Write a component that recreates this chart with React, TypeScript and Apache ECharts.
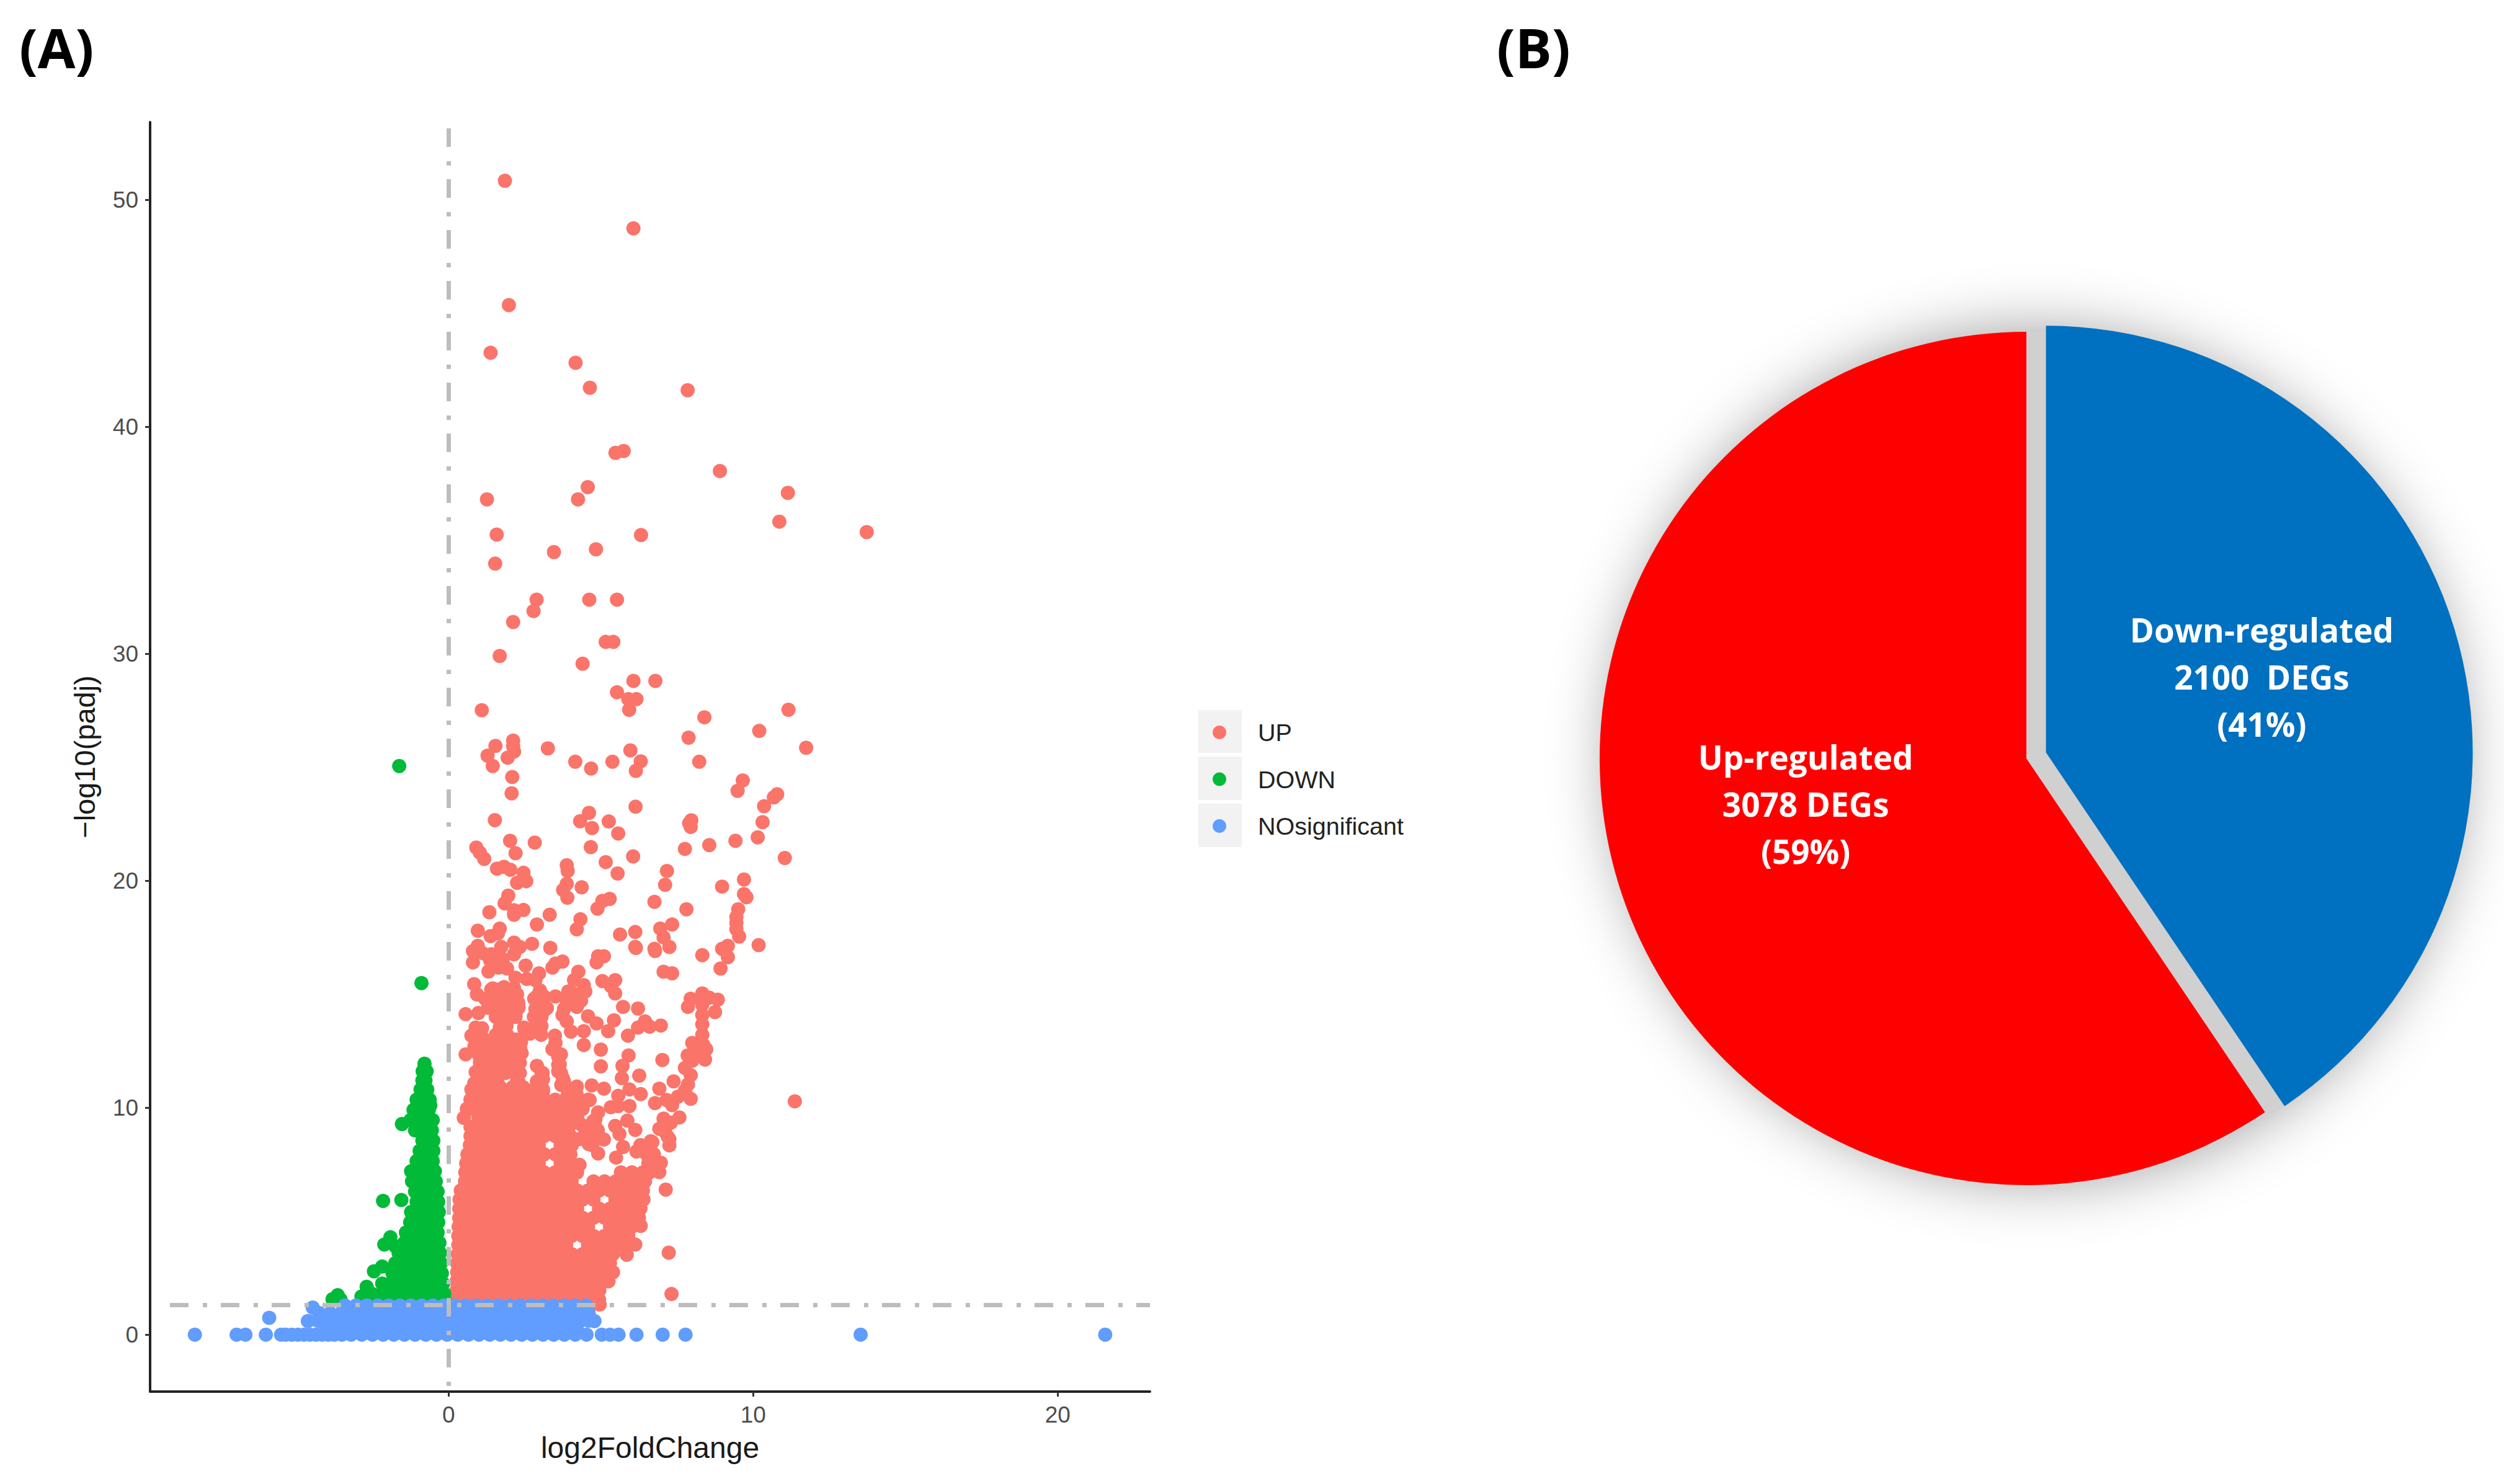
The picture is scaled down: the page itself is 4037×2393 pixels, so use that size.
import React, { useEffect, useRef } from "react";
import * as echarts from "echarts";

type Pt = [number, number];
type Row = [number, number[]];

const upSparse: Pt[] = [
  [1.85,50.84],[6.07,48.74],[1.98,45.36],[1.38,43.26],[4.17,42.82],[4.64,41.72],[7.85,41.61],[5.75,38.93],[5.48,38.85],[8.91,38.05],
  [4.57,37.34],[1.26,36.8],[4.25,36.8],[11.14,37.09],[10.86,35.82],[13.73,35.36],[1.58,35.25],[6.32,35.23],[4.84,34.6],[3.46,34.48],
  [1.53,33.97],[2.89,32.38],[4.62,32.38],[5.53,32.38],[2.79,31.88],[2.12,31.4],[5.16,30.52],[5.41,30.52],[1.68,29.9],[4.4,29.56],
  [6.07,28.8],[6.79,28.8],[5.53,28.3],[5.9,28.0],[6.17,28.0],[5.93,27.53],[1.09,27.51],[11.16,27.53],[8.4,27.2],[10.2,26.6],[7.88,26.3],
  [11.74,25.86],[2.12,26.17],[2.12,25.92],[1.54,25.94],[3.26,25.83],[2.15,25.69],[5.97,25.74],[1.28,25.51],[1.94,25.42],[4.16,25.24],
  [5.38,25.24],[6.31,25.26],[4.68,24.94],[8.23,25.24],[6.15,24.84],[1.45,25.05],[2.09,24.57],[2.07,23.85],[9.66,24.42],[9.49,23.96],
  [10.79,23.81],[10.68,23.67],[10.36,23.28],[6.14,23.26],[4.61,22.99],[1.52,22.67],[4.32,22.62],[5.26,22.61],[7.97,22.66],[7.9,22.53],
  [7.95,22.37],[10.31,22.58],[4.71,22.32],[5.57,22.08],[10.15,21.91],[2.02,21.76],[2.83,21.68],[9.42,21.76],[8.56,21.57],[4.67,21.48],
  [7.76,21.4],[0.91,21.46],[1.03,21.23],[2.2,21.21],[1.17,20.96],[6.06,21.07],[11.04,21.0],[5.16,20.82],[3.88,20.68],[3.91,20.43],
  [1.59,20.53],[1.82,20.61],[2.03,20.48],[2.46,20.35],[7.17,20.43],[5.55,20.32],[9.7,20.05],[2.48,20.09],[2.55,19.98],[2.25,19.91],
  [3.88,19.86],[7.11,19.82],[8.98,19.74],[4.37,19.71],[3.76,19.59],[9.7,19.41],[9.78,19.27],[1.96,19.34],[5.29,19.2],[3.9,19.25],
  [6.76,19.07],[5.05,19.11],[1.84,19.0],[2.46,18.71],[2.15,18.7],[9.51,18.74],[7.81,18.74],[4.89,18.77],[1.34,18.61],[2.15,18.5],
  [3.32,18.5],[4.33,18.3],[9.45,18.4],[9.45,18.13],[2.9,18.07],[7.34,18.07],[9.45,17.86],[4.21,17.86],[6.95,17.89],[0.96,17.8],
  [1.68,17.89],[6.13,17.74],[5.63,17.63],[1.38,17.56],[1.62,17.68],[9.54,17.54],[7.06,17.5],[2.15,17.27],[2.74,17.22],[10.18,17.16],
  [3.34,17.04],[9.17,17.13],[8.98,17.0],[0.96,17.13],[6.13,17.08],[6.76,17.0],[7.25,17.08],
  [0.8,16.9],[1.12,16.81],[1.4,16.76],[1.73,17.08],[2.34,17.08],[2.15,16.76],[1.64,16.63],[0.8,16.4],[1.36,16.49],[1.78,16.54],
  [1.31,16.0],[1.64,16.17],[1.92,16.13],[2.53,16.26],[3.41,16.17],[3.51,16.35],[3.74,16.44],[4.91,16.67],[5.1,16.67],[4.86,16.4],
  [8.33,16.72],[9.17,16.63],[8.93,16.13],[9.07,16.94],[6.15,17.04],[6.78,16.9],[7.06,15.99],[7.34,15.92],[4.26,15.99],[4.12,15.62],
  [2.97,15.92],[2.2,15.72],[2.57,15.67],[2.85,15.62],[5.05,15.58],[5.47,15.62],[5.47,15.03],[5.33,15.35],[0.84,15.44],[0.93,14.99],
  [1.45,15.26],[1.82,15.31],[2.15,15.26],[1.26,14.8],[1.54,14.9],[1.92,14.8],[2.25,14.99],[2.29,14.62],[3.0,15.17],[3.13,14.9],[2.81,14.8],
  [4.44,15.4],[4.49,15.12],[3.93,15.12],[4.16,14.99],[3.51,14.9],[4.35,14.71],[3.88,14.71],[4.21,14.44],[1.45,14.53],[1.82,14.62],[2.1,14.35],
  [1.64,14.26],[2.2,14.17],[0.56,14.12],[0.98,14.17],[2.85,14.35],[3.23,14.39],[3.0,14.62],[3.79,14.35],[3.74,14.08],[3.88,13.8],
  [5.73,14.44],[6.22,14.37],[4.58,14.03],[4.86,13.71],[5.43,13.85],[5.24,13.37],[6.45,13.8],[6.22,13.53],[6.6,13.57],[6.97,13.62],[5.89,13.17],
  [4.02,13.35],[4.44,13.37],[2.85,13.98],[2.85,13.62],[3.04,13.21],[2.48,13.53],[2.67,13.26],[1.68,13.89],[1.68,13.53],[1.92,13.21],
  [0.89,13.53],[0.75,13.17],[1.12,13.07],[4.44,12.76],[5.0,12.56],[3.49,13.17],[3.51,12.85],[3.41,12.57],[3.69,12.35],[2.38,12.89],[2.29,12.44],
  [1.64,12.8],[1.64,12.35],[1.08,12.62],[0.56,12.35],[5.91,12.3],[5.71,11.84],[5.0,11.82],[7.02,12.1],[1.03,11.98],[0.89,11.57],
  [1.45,11.98],[1.92,11.98],[2.34,11.98],[1.4,11.53],[1.87,11.53],[2.34,11.53],[2.9,11.84],[3.09,11.53],[3.6,11.89],[3.69,11.53],
  [5.69,11.3],[6.26,11.41],[1.45,11.12],[2.29,11.16],[2.9,11.16],[3.79,11.16],[0.84,11.07],[4.21,10.93],[4.7,10.98],[5.1,10.84],[5.94,10.8],[6.31,10.6],[5.57,10.52],
  [8.33,15.03],[7.95,14.8],[8.84,14.76],[7.86,14.44],[8.75,14.21],[8.56,14.85],[8.33,14.53],[8.33,14.08],[8.33,13.67],[8.33,13.21],[8.0,12.85],[8.37,12.76],
  [8.46,12.57],[8.09,12.44],[7.85,12.3],[8.42,12.12],[8.0,12.07],[7.76,11.75],[7.95,11.43],[7.39,11.16],[7.86,11.02],[7.76,10.75],[6.92,10.84],[7.95,10.39],
  [7.53,10.48],[7.16,10.34],[6.78,10.2],[7.34,10.11],[11.37,10.28],[7.58,9.57],[7.06,9.52],[7.3,9.34],[6.92,9.07],[7.11,8.93],[7.25,8.34],[7.25,8.61],
  [6.64,8.52],[5.73,8.27],[6.36,8.16],[5.47,9.2],[5.87,9.43],[6.13,9.02],[5.61,8.84],[5.94,10.07],[5.57,10.07],[5.33,10.02],[4.63,10.34],[4.91,9.79],[4.82,9.48],
  [7.13,6.39],[7.23,3.61],[7.32,1.79],[5.85,3.52],[6.13,3.97],[6.31,4.79],[6.97,7.57],[6.92,7.16],[6.69,8.48],[7.2,8.71],[6.17,8.07],[5.5,7.8],
  [4.3,7.48],[4.91,7.98],[5.05,8.62],[4.72,8.35],[4.3,8.62],[4.35,9.26],[4.82,9.16],[4.75,9.4],[4.9,9.0],[4.7,9.1],[4.85,8.65],[4.5,8.9],[4.6,8.4],[5.1,8.6],
  [4.96,1.33],[6.5,7.95],[6.74,7.95],[6.3,8.35],[3.9,10.5],[4.2,10.6],
  [1.5,12.85],[1.85,12.85],[2.2,12.85],[1.4,12.4],[1.75,12.4],[2.1,12.4],[2.4,12.4],[1.36,12.0],[1.7,12.0],[2.0,12.0],[1.3,11.6],[1.65,11.6],[2.0,11.6],
  [1.25,11.2],[1.6,11.2],[2.25,11.2],[1.35,10.9],[1.7,10.9],[2.1,10.9],[2.45,10.9],[1.1,13.5],[1.1,13.1],[0.85,12.7],[1.15,12.7],[1.0,12.3],[1.0,11.5],[0.75,10.8],[1.0,10.8],
  [1.9,14.0],[1.9,13.6],[1.55,13.2],[1.4,15.2],[1.65,15.2],[1.9,15.2],[2.1,15.2],[1.2,14.8],[1.5,14.8],[1.8,14.8],[2.05,14.8],[1.3,14.4],[1.6,14.4],[2.3,14.4],
  [1.55,14.0],[1.85,14.0],[2.2,14.0],[2.9,14.9],[3.1,14.7],[3.15,14.3],[2.8,14.0],[3.05,14.0],[3.05,13.6],[2.5,13.4],[2.75,13.35],[2.2,13.0],[2.35,12.6],
  [3.6,12.25],[3.65,11.9],[3.6,11.6],[3.75,11.3],[3.7,11.0],[3.9,10.8],[3.05,11.55],[3.1,11.25],[2.85,10.85],[3.1,10.8],
];

// the solid part of the UP cloud, read row by row: [-log10(padj), log2FoldChange values]
const upDenseRows: Row[] = [
  [1.55,[0.26,0.62,0.98,1.34,1.7,2.06,2.42,2.78,3.14,3.5,3.86,4.22,4.58,4.94]],
  [1.95,[0.26,0.44,0.8,1.16,1.52,1.88,2.24,2.6,2.96,3.32,3.68,4.04,4.4,4.76,4.95]],
  [2.35,[0.26,0.62,0.98,1.34,1.7,2.06,2.42,2.78,3.14,3.5,3.86,4.22,4.58,4.94,5.25]],
  [2.75,[0.28,0.44,0.8,1.16,1.52,1.88,2.24,2.6,2.96,3.32,3.68,4.04,4.4,4.76,5.12,5.4]],
  [3.15,[0.28,0.62,0.98,1.34,1.7,2.06,2.42,2.78,3.14,3.5,3.86,4.22,4.58,4.94,5.3]],
  [3.55,[0.3,0.44,0.8,1.16,1.52,1.88,2.24,2.6,2.96,3.32,3.68,4.04,4.4,4.76,5.12,5.4]],
  [3.95,[0.32,0.62,0.98,1.34,1.7,2.06,2.42,2.78,3.14,3.5,3.86,4.58,4.94,5.3,5.66,5.8]],
  [4.35,[0.32,0.44,0.8,1.16,1.52,1.88,2.24,2.6,2.96,3.32,3.68,4.04,4.4,4.76,5.12,5.48,5.84,5.9]],
  [4.75,[0.33,0.62,0.98,1.34,1.7,2.06,2.42,2.78,3.14,3.5,3.86,4.22,4.58,5.3,5.66,6.02]],
  [5.15,[0.35,0.44,0.8,1.16,1.52,1.88,2.24,2.6,2.96,3.32,3.68,4.04,4.4,4.76,5.12,5.48,5.84,6.25]],
  [5.55,[0.35,0.62,0.98,1.34,1.7,2.06,2.42,2.78,3.14,3.5,3.86,4.22,4.94,5.3,5.66,6.02,6.3]],
  [5.95,[0.36,0.44,0.8,1.16,1.52,1.88,2.24,2.6,2.96,3.32,3.68,4.04,4.4,4.76,5.48,5.84,6.2,6.4]],
  [6.35,[0.4,0.62,0.98,1.34,1.7,2.06,2.42,2.78,3.14,3.5,3.86,4.22,4.58,4.94,5.3,5.66,6.02,6.38]],
  [6.75,[0.54,0.8,1.16,1.52,1.88,2.24,2.6,2.96,3.32,3.68,4.04,4.76,5.12,5.48,5.84,6.2,6.45]],
  [7.15,[0.55,0.98,1.34,1.7,2.06,2.42,2.78,3.14,3.5,3.86,4.22,5.66,6.02,6.38,6.6]],
  [7.55,[0.58,0.8,1.16,1.52,1.88,2.24,2.6,2.96,3.68,4.04,6.56,6.7]],
  [7.95,[0.62,0.98,1.34,1.7,2.06,2.42,2.78,3.14,3.5,3.86,4.0]],
  [8.35,[0.7,0.8,1.16,1.52,1.88,2.24,2.6,2.96,3.68,4.05]],
  [8.75,[0.72,0.98,1.34,1.7,2.06,2.42,2.78,3.14,3.5,3.86,4.0]],
  [9.15,[0.72,1.16,1.52,1.88,2.24,2.6,2.96,3.32,3.68,3.95]],
  [9.55,[0.5,0.98,1.34,1.7,2.06,2.42,2.78,3.14,3.5,3.86,4.22]],
  [9.95,[0.6,0.8,1.16,1.52,1.88,2.24,2.6,2.96,3.32,3.68,4.04,4.4]],
  [10.35,[0.72,0.98,1.34,1.7,2.06,2.42,2.78,3.14,3.5,3.86,4.22,4.58]],
  [10.7,[0.85,1.16,1.52,1.88,2.24,2.6,2.96,3.1]],
];

const downSparse: Pt[] = [
  [-1.62,25.05],[-0.89,15.49],[-0.79,11.94],[-0.72,11.6],[-0.85,11.6],[-0.6,10.1],[-1.53,9.28],[-2.15,5.89],[-1.55,5.93],[-1.91,4.29],
  [-2.11,3.97],[-1.75,3.9],[-2.45,2.79],[-2.18,3.0],[-2.69,2.11],[-2.86,1.68],[-2.59,1.52],[-3.64,1.74],[-3.81,1.56],[-3.55,1.55],
];

const downDenseRows: Row[] = [
  [11.2,[-0.86,-0.76]],
  [10.8,[-0.92,-0.7]],
  [10.35,[-1.05,-0.8,-0.62]],
  [9.9,[-1.15,-0.9,-0.65]],
  [9.45,[-1.25,-1.0,-0.75,-0.52]],
  [9.0,[-1.1,-0.85,-0.55]],
  [8.55,[-0.86,-0.68,-0.5]],
  [8.1,[-0.95,-0.72,-0.5]],
  [7.65,[-1.05,-0.8,-0.52]],
  [7.2,[-1.23,-0.95,-0.7,-0.45]],
  [6.75,[-1.2,-0.9,-0.65,-0.42]],
  [6.3,[-1.1,-0.85,-0.6,-0.36]],
  [5.85,[-1.05,-0.8,-0.55,-0.34]],
  [5.4,[-1.23,-0.95,-0.7,-0.45,-0.32]],
  [4.95,[-1.26,-1.0,-0.75,-0.52,-0.34]],
  [4.5,[-1.4,-1.1,-0.85,-0.6,-0.36]],
  [4.05,[-1.45,-1.2,-0.95,-0.7,-0.45,-0.3]],
  [3.6,[-1.64,-1.35,-1.1,-0.85,-0.6,-0.36,-0.28]],
  [3.15,[-1.75,-1.5,-1.2,-0.95,-0.7,-0.45,-0.25]],
  [2.7,[-1.84,-1.6,-1.3,-1.05,-0.8,-0.55,-0.28,-0.22]],
  [2.25,[-2.18,-1.9,-1.6,-1.3,-1.05,-0.8,-0.55,-0.3,-0.18]],
  [1.8,[-2.52,-2.2,-1.9,-1.6,-1.3,-1.05,-0.8,-0.55,-0.3,-0.14]],
  [1.45,[-2.72,-2.45,-2.15,-1.85,-1.55,-1.25,-1.0,-0.75,-0.5,-0.25,-0.1]],
];

const noSigSparse: Pt[] = [[-5.89,0.74],[-4.46,1.19],[-4.62,0.6],[4.79,0.6]];

const noSigRows: Row[] = [
  [1.28,[-3.4,-3.04,-2.68,-2.32,-1.96,-1.6,-1.24,-0.88,-0.52,-0.16,0.2,0.56,0.92,1.28,1.64,2,2.36,2.72,3.08,3.44,3.8,4.16,4.52]],
  [0.95,[-4.25,-3.89,-3.53,-3.17,-2.81,-2.45,-2.09,-1.73,-1.37,-1.01,-0.65,-0.29,0.07,0.43,0.79,1.15,1.51,1.87,2.23,2.59,2.95,3.31,3.67,4.03,4.39,4.6]],
  [0.62,[-4.3,-3.94,-3.58,-3.22,-2.86,-2.5,-2.14,-1.78,-1.42,-1.06,-0.7,-0.34,0.02,0.38,0.74,1.1,1.46,1.82,2.18,2.54,2.9,3.26,3.62,3.98,4.34,4.6]],
  [0.3,[-4.05,-3.69,-3.33,-2.97,-2.61,-2.25,-1.89,-1.53,-1.17,-0.81,-0.45,-0.09,0.27,0.63,0.99,1.35,1.71,2.07,2.43,2.79,3.15,3.51,3.87,4.2]],
  [0,[-8.33,-6.96,-6.67,-6.0,-5.5,-5.35,-5.15,-4.95,-4.75,-4.55,-4.35,-4.15,-3.95,-3.75,-3.5,-3.2,-2.85,-2.5,-2.15,-1.8,-1.45,-1.1,-0.75,-0.4,-0.05,0.3,0.65,1,1.35,1.7,2.05,2.4,2.75,3.1,3.45,3.8,4.16,4.53,5.03,5.3,5.58,6.17,7.03,7.78,13.53,21.56]],
];

const xTicks = [0, 10, 20];
const yTicks = [0, 10, 20, 30, 40, 50];
const padjCutoff = 1.3;
const legendNames = ["UP", "DOWN", "NOsignificant"];
const pieNames = ["Down-regulated", "Up-regulated"];
const pieValues = [2100, 3078];
const pieLabels = ["Down-regulated\n2100  DEGs\n(41%)", "Up-regulated\n3078 DEGs\n(59%)"];

const fromRows = (rows: Row[]): Pt[] => rows.flatMap(([y, xs]) => xs.map((x) => [x, y] as Pt));

const DOT = 23;
const SANS = "'Liberation Sans', Arial, sans-serif";
const TITLE = "'Open Sans', sans-serif";

export default function App() {
  const ref = useRef<HTMLDivElement | null>(null);
  useEffect(() => {
    document.body.style.margin = "0";
    const chart = echarts.init(ref.current!, undefined, { renderer: "svg" });
    const refLine = { color: "#bdbdbd", width: 7, type: [30, 23, 7, 22] as number[] };
    chart.setOption({
      animation: false,
      backgroundColor: "#ffffff",
      grid: { left: 242, top: 197, width: 1612, height: 2047 },
      xAxis: {
        type: "value", min: -9.8, max: 23.03, splitLine: { show: false },
        name: "log2FoldChange", nameLocation: "middle", nameGap: 66,
        nameTextStyle: { fontFamily: SANS, fontSize: 48, color: "#1a1a1a" },
        axisLine: { onZero: false, lineStyle: { color: "#222", width: 4 } },
        axisTick: { length: 8, customValues: xTicks, lineStyle: { color: "#333", width: 3 } },
        axisLabel: { customValues: xTicks, fontFamily: SANS, fontSize: 37, color: "#4d4d4d", margin: 19 },
      },
      yAxis: {
        type: "value", min: -2.51, max: 53.42, splitLine: { show: false },
        name: "\u2212log10(padj)", nameLocation: "middle", nameGap: 82,
        nameTextStyle: { fontFamily: SANS, fontSize: 47, color: "#1a1a1a" },
        axisLine: { onZero: false, lineStyle: { color: "#222", width: 4 } },
        axisTick: { length: 8, customValues: yTicks, lineStyle: { color: "#333", width: 3 } },
        axisLabel: { customValues: yTicks, fontFamily: SANS, fontSize: 37, color: "#4d4d4d", margin: 19 },
      },
      legend: {
        data: legendNames, orient: "vertical", left: 1950, top: 1156,
        itemWidth: 22, itemHeight: 22, itemGap: 35.5, icon: "circle",
        textStyle: { fontFamily: SANS, fontSize: 39.5, color: "#222", padding: [0, 0, 0, 46] },
        selectedMode: false,
      },
      graphic: [
        { type: "text", left: 31, top: 32, style: { text: "(A)", fontFamily: TITLE, fontWeight: "bold", fontSize: 88, fill: "#000" } },
        { type: "text", left: 2413, top: 32, style: { text: "(B)", fontFamily: TITLE, fontWeight: "bold", fontSize: 88, fill: "#000" } },
        { type: "rect", shape: { x: 1932, y: 1145, width: 70, height: 69 }, style: { fill: "#f2f2f2" }, z: 0 },
        { type: "rect", shape: { x: 1932, y: 1220, width: 70, height: 70 }, style: { fill: "#f2f2f2" }, z: 0 },
        { type: "rect", shape: { x: 1932, y: 1296, width: 70, height: 70 }, style: { fill: "#f2f2f2" }, z: 0 },
        {
          type: "circle", shape: { cx: 3283, cy: 1219, r: 684 }, z: 0,
          style: { fill: "#d0d0d0", shadowBlur: 100, shadowColor: "rgba(0,0,0,0.4)" },
        },
      ],
      series: [
        {
          type: "scatter", name: "UP", symbolSize: DOT, itemStyle: { color: "#FA746A", opacity: 1 },
          data: [...fromRows(upDenseRows), ...upSparse], silent: true,
        },
        {
          type: "scatter", name: "DOWN", symbolSize: DOT, itemStyle: { color: "#00BA38", opacity: 1 },
          data: [...fromRows(downDenseRows), ...downSparse], silent: true,
        },
        {
          type: "scatter", name: "NOsignificant", symbolSize: DOT, itemStyle: { color: "#619CFF", opacity: 1 },
          data: [...fromRows(noSigRows), ...noSigSparse], silent: true,
          markLine: {
            silent: true, symbol: "none", z: 6, label: { show: false }, lineStyle: refLine,
            data: [
              [{ coord: [-9.15, padjCutoff] }, { coord: [23.03, padjCutoff] }],
              [{ coord: [0, 53.15] }, { coord: [0, -2.51] }],
            ],
          },
        },
        {
          type: "pie", center: [3267, 1223], radius: [0, 688], startAngle: 90, silent: true,
          selectedMode: "single", selectedOffset: 33, avoidLabelOverlap: false, labelLine: { show: false },
          emphasis: { disabled: true },
          label: { show: true, position: "inside", color: "#fff", fontFamily: TITLE, fontWeight: "bold", fontSize: 53, lineHeight: 76, formatter: (p: any) => pieLabels[p.dataIndex] },
          data: [
            {
              name: pieNames[0], value: pieValues[0], selected: true, itemStyle: { color: "#0070C0" },
              label: { offset: [16, -20] }, select: { label: { offset: [16, -20] } },
            },
            { name: pieNames[1], value: pieValues[1], itemStyle: { color: "#FF0000" }, label: { offset: [-24, -28] } },
          ],
        },
      ],
    });
    return () => chart.dispose();
  }, []);
  return <div ref={ref} style={{ position: "absolute", left: 0, top: 0, width: 4037, height: 2393 }} />;
}
